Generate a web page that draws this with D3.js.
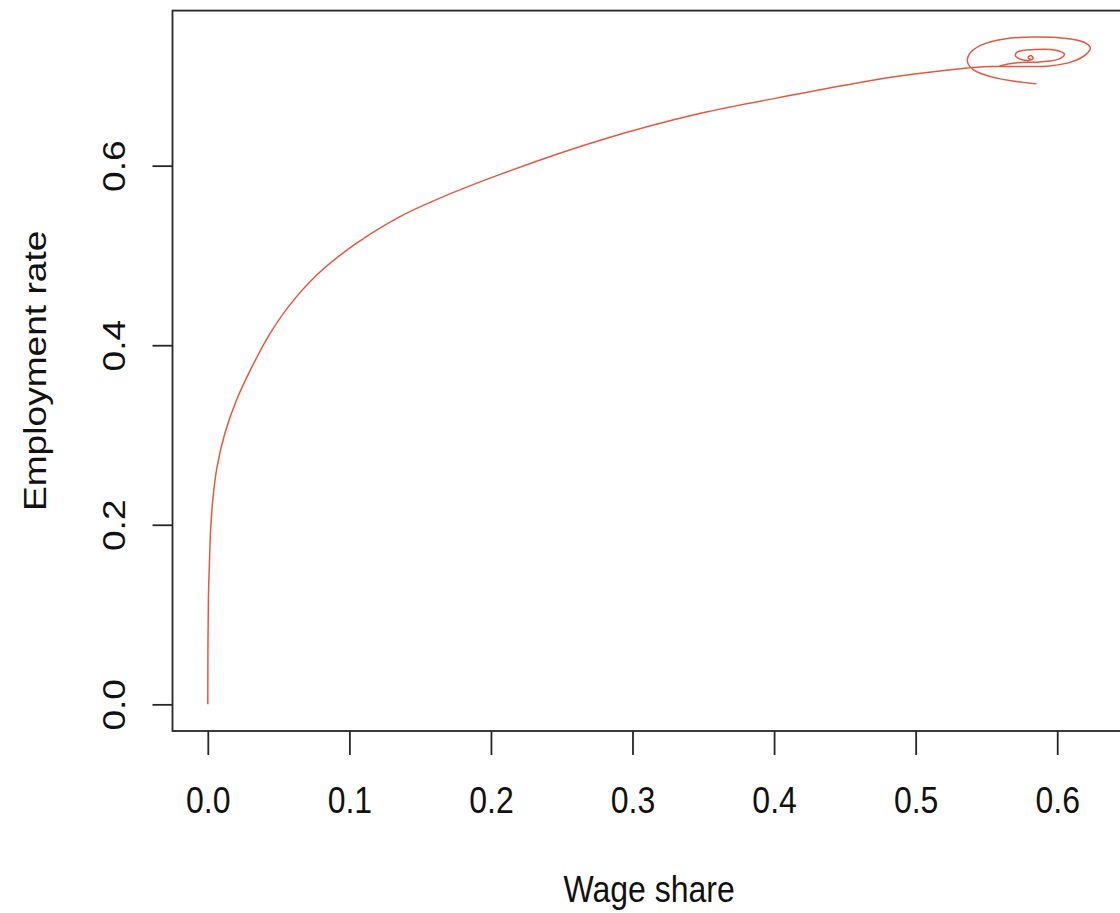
<!DOCTYPE html>
<html>
<head>
<meta charset="utf-8">
<script src="https://cdn.jsdelivr.net/npm/d3@7"></script>
<style>
  html, body { margin: 0; padding: 0; background: #fff; }
  svg { display: block; }
  text { font-family: "Liberation Sans", Arial, Helvetica, sans-serif; fill: #111; }
</style>
</head>
<body>
<svg id="chart" width="1120" height="913"></svg>
<script>
// ---- data ----
// main trajectory: from the origin up to the cycle, then the outer loop and its tail
const wageShare = [0, 0.0001, 0.0004, 0.0012, 0.0019, 0.0035, 0.0065, 0.0121, 0.0203, 0.0309, 0.0436,
  0.0570, 0.0775, 0.1036, 0.1354, 0.1582, 0.206, 0.2766, 0.3473, 0.4179, 0.4586, 0.4885, 0.517, 0.5366,
  0.5522, 0.5733, 0.5945, 0.6101, 0.6199, 0.6234, 0.6185, 0.6030, 0.5839, 0.5627, 0.5465, 0.5380,
  0.5366, 0.5409, 0.5536, 0.5677, 0.5854];
const employment = [0, 0.06, 0.116, 0.16, 0.191, 0.2276, 0.2643, 0.3022, 0.3390, 0.375, 0.412,
  0.443, 0.479, 0.512, 0.543, 0.560, 0.590, 0.628, 0.658, 0.680, 0.692, 0.6998, 0.7055, 0.7088,
  0.7104, 0.7105, 0.7111, 0.7156, 0.7234, 0.7311, 0.7378, 0.7423, 0.7434, 0.7412, 0.7345, 0.7245,
  0.7156, 0.7067, 0.6989, 0.6945, 0.6911];
// inner loops of the cycle converging to the centre
const cycleWage = [0.5592, 0.5698, 0.5875, 0.6016, 0.6051, 0.5981, 0.5839, 0.5719, 0.5705, 0.5748,
  0.5797, 0.5829, 0.5815, 0.5794, 0.5811];
const cycleEmployment = [0.7111, 0.7144, 0.7156, 0.7189, 0.7244, 0.7289, 0.7294, 0.7267, 0.7222, 0.7183,
  0.7172, 0.7194, 0.7228, 0.7206, 0.7183];
const xTicks = [0, 0.1, 0.2, 0.3, 0.4, 0.5, 0.6];
const yTicks = [0, 0.2, 0.4, 0.6];
const xLabel = "Wage share";
const yLabel = "Employment rate";

// ---- layout ----
const xLim = [0, 0.6234], yLim = [0, 0.743];
const xPad = 0.04 * (xLim[1] - xLim[0]), yPad = 0.04 * (yLim[1] - yLim[0]);
const plot = { left: 172.5, top: 10.6, bottom: 731 };
const pxPerX = 1415.7;
plot.right = plot.left + (xLim[1] - xLim[0] + 2 * xPad) * pxPerX;

const x = d3.scaleLinear().domain([xLim[0] - xPad, xLim[1] + xPad]).range([plot.left, plot.right]);
const y = d3.scaleLinear().domain([yLim[0] - yPad, yLim[1] + yPad]).range([plot.bottom, plot.top]);

const svg = d3.select("#chart");
svg.append("rect").attr("width", 1120).attr("height", 913).attr("fill", "#fff");

const line = d3.line().x(d => x(d[0])).y(d => y(d[1])).curve(d3.curveCatmullRom.alpha(0.5));
const lineColor = "#e5583f";

svg.append("path")
  .datum(wageShare.map((w, i) => [w, employment[i]]))
  .attr("d", line).attr("fill", "none").attr("stroke", lineColor).attr("stroke-width", 1.5);
svg.append("path")
  .datum(cycleWage.map((w, i) => [w, cycleEmployment[i]]))
  .attr("d", line).attr("fill", "none").attr("stroke", lineColor).attr("stroke-width", 1.5);

// box
svg.append("rect")
  .attr("x", plot.left).attr("y", plot.top)
  .attr("width", plot.right - plot.left).attr("height", plot.bottom - plot.top)
  .attr("fill", "none").attr("stroke", "#262626").attr("stroke-width", 1.8);

const fontSize = 32;
const stretch = 1.16;

// x axis
const gx = svg.append("g").attr("transform", `translate(0,${plot.bottom})`)
  .call(d3.axisBottom(x).tickValues(xTicks).tickFormat(d3.format(".1f")).tickSize(24));
gx.select(".domain").remove();
gx.selectAll(".tick line").attr("stroke", "#262626").attr("stroke-width", 1.8);
gx.selectAll(".tick text")
  .attr("y", null).attr("dy", null)
  .attr("transform", `translate(0,82) scale(1,${stretch})`)
  .attr("text-anchor", "middle")
  .style("font-size", fontSize + "px").style("fill", "#111");

// y axis
const gy = svg.append("g").attr("transform", `translate(${plot.left},0)`)
  .call(d3.axisLeft(y).tickValues(yTicks).tickFormat(d3.format(".1f")).tickSize(20));
gy.select(".domain").remove();
gy.selectAll(".tick line").attr("stroke", "#262626").attr("stroke-width", 1.8);
gy.selectAll(".tick text")
  .attr("x", null).attr("dy", null)
  .attr("transform", `translate(-47.5,0) rotate(-90) scale(${stretch},1)`)
  .attr("text-anchor", "middle")
  .style("font-size", fontSize + "px").style("fill", "#111");

// axis titles
svg.append("text")
  .attr("transform", `translate(${(plot.left + plot.right) / 2},902) scale(1,${stretch})`)
  .attr("text-anchor", "middle").style("font-size", fontSize + "px").text(xLabel);
svg.append("text")
  .attr("transform", `translate(46,${(plot.top + plot.bottom) / 2}) rotate(-90) scale(${stretch},1)`)
  .attr("text-anchor", "middle").style("font-size", fontSize + "px").text(yLabel);
</script>
</body>
</html>
